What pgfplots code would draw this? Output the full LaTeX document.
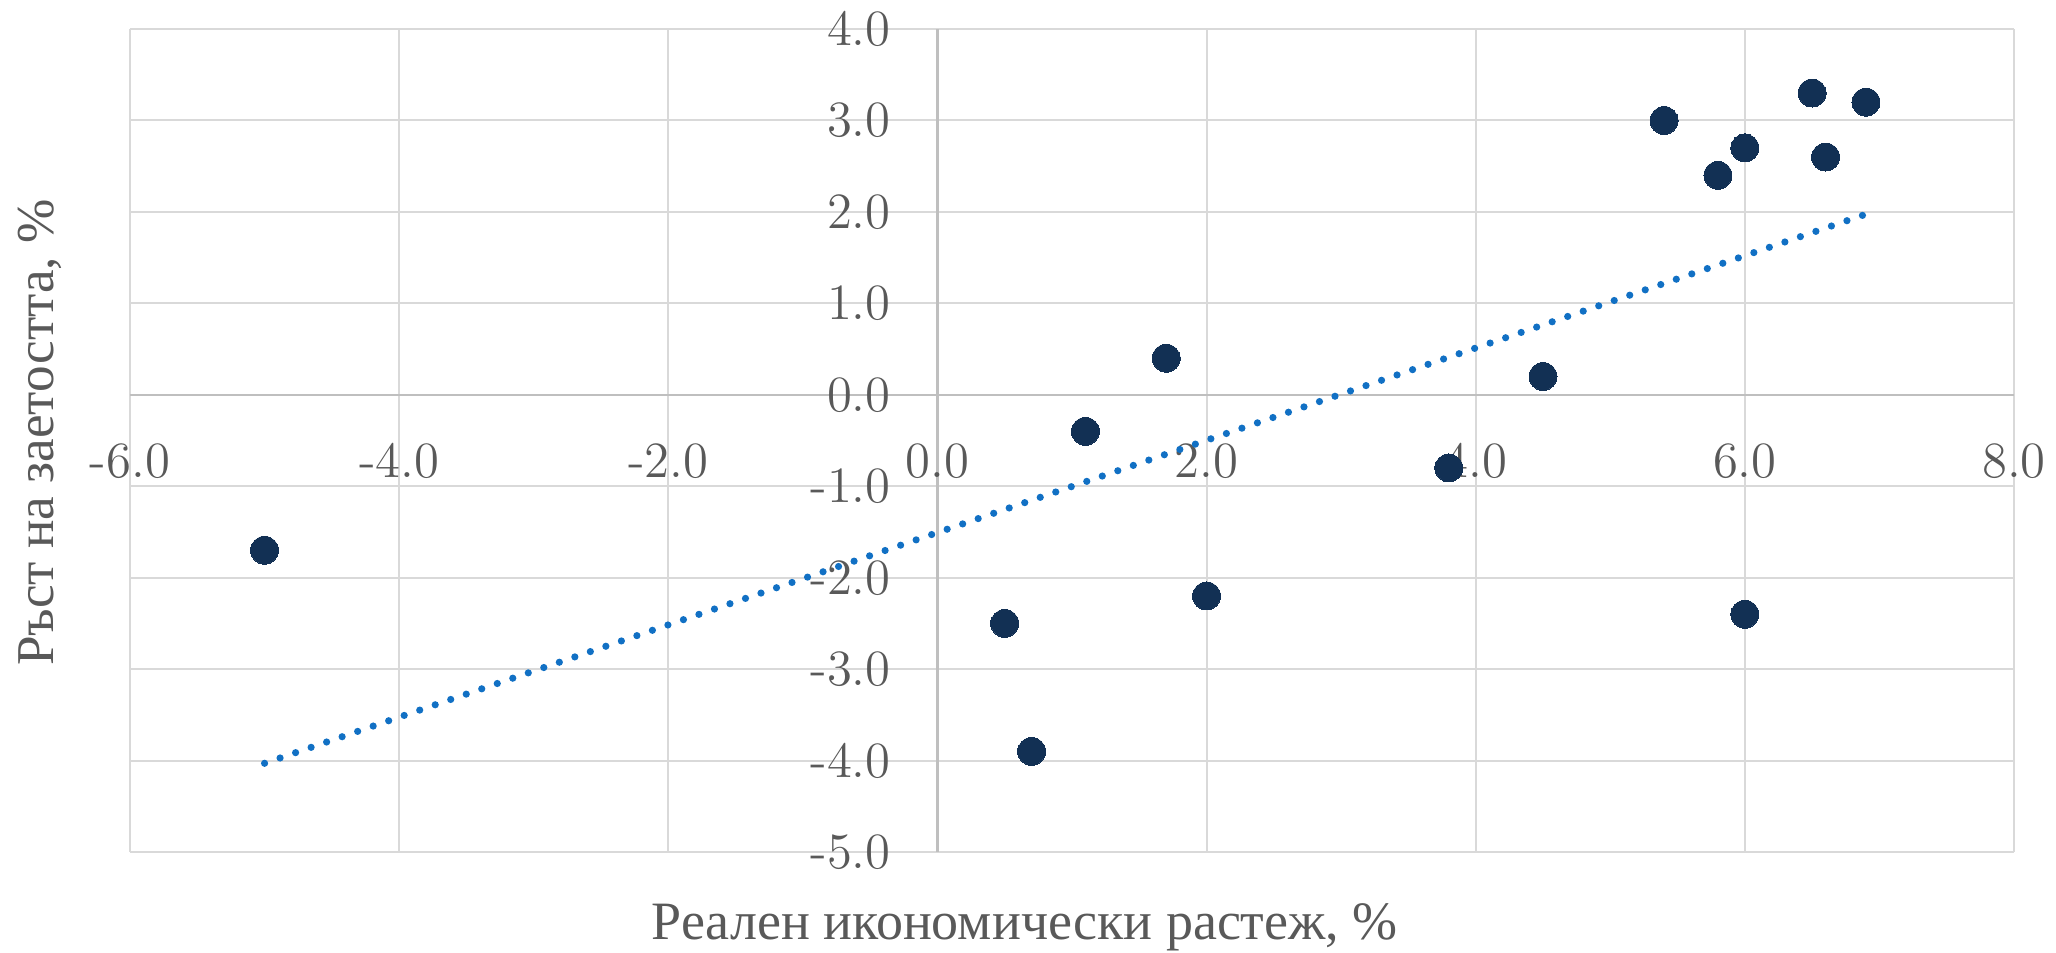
\documentclass[border=0pt]{standalone}
\usepackage{fontspec}
\usepackage{pgfplots}
\pgfplotsset{compat=1.18}
\newfontfamily\cyrfont{Liberation Serif}
\definecolor{txt}{HTML}{595959}
\definecolor{gridc}{HTML}{D9D9D9}
\definecolor{axc}{HTML}{BFBFBF}
\definecolor{mk}{HTML}{123054}
\definecolor{tr}{HTML}{1170C4}
\begin{document}
\begin{tikzpicture}
\path[use as bounding box] (-32.5pt,-25.25pt) rectangle (481.5pt,213pt);
\begin{axis}[
  at={(0,0)}, anchor=south west,
  scale only axis, width=471pt, height=205.75pt,
  xmin=-6, xmax=8, ymin=-5, ymax=4,
  axis lines=middle,
  axis line style={draw=axc, line width=0.6pt, -},
  hide obscured x ticks=false, hide obscured y ticks=false,
  xtick={-6,-4,...,8}, ytick={-5,-4,...,4},
  xticklabels={-6.0,-4.0,-2.0,0.0,2.0,4.0,6.0,8.0},
  yticklabels={-5.0,-4.0,-3.0,-2.0,-1.0,0.0,1.0,2.0,3.0,4.0},
  major tick length=0pt,
  grid=major,
  major grid style={draw=gridc, line width=0.5pt},
  tick label style={font=\fontsize{12.7}{15}\selectfont, text=txt},
  xticklabel style={anchor=north, inner sep=0pt, yshift=-12pt},
  yticklabel style={anchor=east, inner sep=0pt, xshift=-11.5pt},
  xlabel={\cyrfont Реален икономически растеж, \%},
  ylabel={\cyrfont Ръст на заетостта, \%},
  every axis x label/.style={at={(axis description cs:0.475,-0.1067)}, anchor=base, font=\fontsize{13.5}{16}\selectfont, text=txt},
  every axis y label/.style={at={(axis description cs:-0.04087,0.5096)}, anchor=base, rotate=90, font=\fontsize{13.3}{16}\selectfont, text=txt},
  clip=false,
]
\addplot[only marks, mark=*, mark size=3.5pt, color=mk, mark options={fill=mk, draw=mk, line width=0pt}] coordinates {
  (-5.0,-1.7) (0.5,-2.5) (0.7,-3.9) (1.1,-0.4) (1.7,0.4) (2.0,-2.2)
  (3.8,-0.8) (4.5,0.2) (5.4,3.0) (5.8,2.4) (6.0,2.7) (6.5,3.3)
  (6.6,2.6) (6.9,3.2) (6.0,-2.4)
};
\addplot[draw=tr, line width=1.8pt, line cap=round, dash pattern=on 0pt off 4.1pt, no marks] coordinates {
  (-5.0,-4.03) (6.9,1.975)
};
\end{axis}
\end{tikzpicture}
\end{document}
